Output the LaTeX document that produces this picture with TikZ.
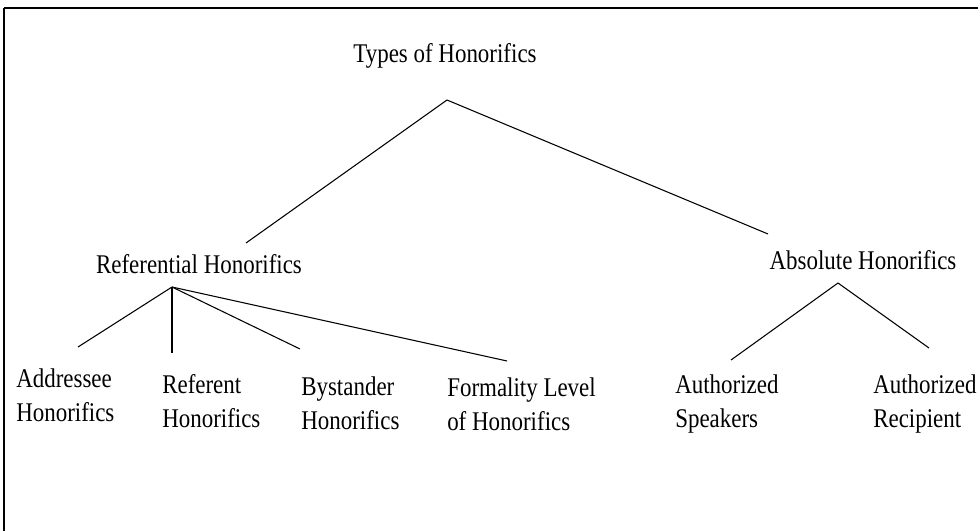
\documentclass[tikz,border=0pt]{standalone}
\usepackage{fontspec}
\setmainfont{Liberation Serif}[FakeStretch=0.85]
\usetikzlibrary{positioning}

\begin{document}
\begin{tikzpicture}[x=0.75pt,y=-0.75pt,
    lbl/.style={font=\fontsize{20.25}{25.5}\selectfont,inner sep=0pt,align=left},
    branch/.style={line width=0.8pt}]
  \useasboundingbox (0,0) rectangle (978,531);
  % frame
  \draw[line width=2pt] (4,8) -- (978,8);
  \draw[line width=1.2pt] (4,8) -- (4,531);
  % labels
  \node[lbl,anchor=base] (types) at (445,63) {Types of Honorifics};
  \node[lbl,anchor=base] (referential) at (199,273) {Referential Honorifics};
  \node[lbl,anchor=base] (absolute) at (863,269) {Absolute Honorifics};
  \node[lbl,anchor=base west] (addressee) at (16,421) {Addressee\\Honorifics};
  \node[lbl,anchor=base west] (referent) at (162,427) {Referent\\Honorifics};
  \node[lbl,anchor=base west] (bystander) at (301,429) {Bystander\\Honorifics};
  \node[lbl,anchor=base west] (formality) at (447,430) {Formality Level\\of Honorifics};
  \node[lbl,anchor=base west] (speakers) at (675,427) {Authorized\\Speakers};
  \node[lbl,anchor=base west] (recipient) at (873,427) {Authorized\\Recipient};
  % branch points
  \coordinate (typesroot) at (447,100);
  \coordinate (referentialtip) at (246,243);
  \coordinate (absolutetip) at (768,234);
  \coordinate (referentialroot) at (172,287);
  \coordinate (absoluteroot) at (838,283);
  \coordinate (addresseetip) at (78,347);
  \coordinate (referenttip) at (172,353);
  \coordinate (bystandertip) at (300,349);
  \coordinate (formalitytip) at (507,361);
  \coordinate (speakerstip) at (731,360);
  \coordinate (recipienttip) at (929,348);
  % branches
  \foreach \a/\b in {typesroot/referentialtip, typesroot/absolutetip,
      referentialroot/addresseetip, referentialroot/referenttip,
      referentialroot/bystandertip, referentialroot/formalitytip,
      absoluteroot/speakerstip, absoluteroot/recipienttip}
    \draw[branch] (\a) -- (\b);
\end{tikzpicture}
\end{document}
